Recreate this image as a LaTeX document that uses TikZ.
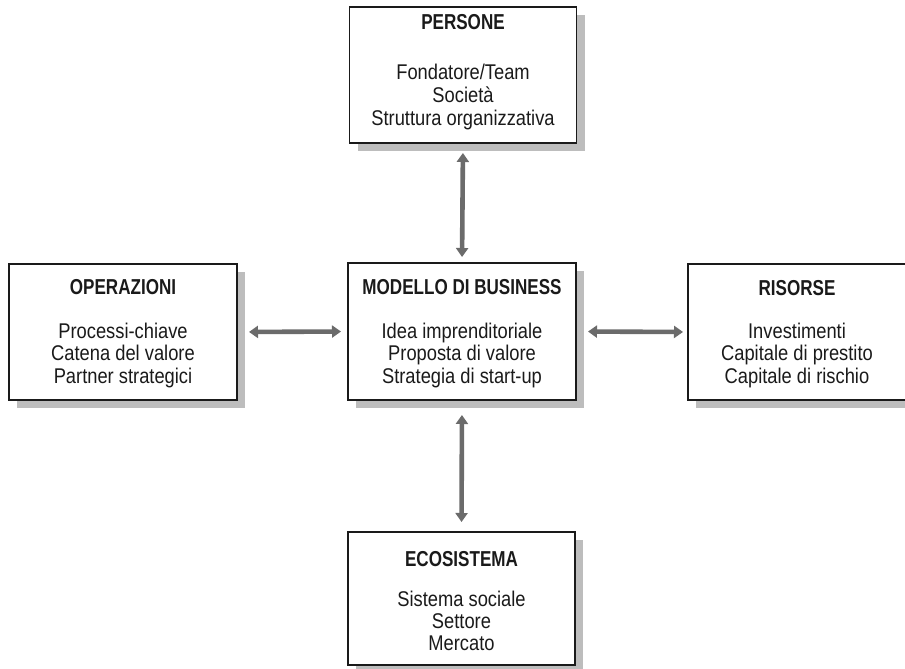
\documentclass[tikz,border=0pt]{standalone}
\usepackage{fontspec}
\setmainfont{Liberation Sans}[FakeStretch=0.86]
\newfontfamily\headfont{Liberation Sans}[FakeStretch=0.79]
\usetikzlibrary{arrows.meta,shadows}

\definecolor{inkgray}{HTML}{1A1A1A}
\definecolor{shadegray}{HTML}{BDBDBD}
\definecolor{arrowgray}{HTML}{6B6B6B}

\tikzset{
  panel/.style={draw=inkgray, line width=1.4pt, fill=white,
    general shadow={fill=shadegray, shadow xshift=8pt, shadow yshift=-8pt},
    inner sep=0pt, outer sep=0pt},
  heading/.style={anchor=base, inner sep=0pt, text=inkgray,
    font=\headfont\bfseries\fontsize{21.6}{24}\selectfont},
  entry/.style={anchor=base, inner sep=0pt, text=inkgray,
    font=\fontsize{21.3}{24}\selectfont},
  link/.style={draw=arrowgray, line width=4.6pt,
    {Triangle[width=12pt,length=9pt]}-{Triangle[width=12pt,length=9pt]}}
}

\begin{document}
\begin{tikzpicture}[x=1pt,y=-1pt]
\useasboundingbox (0,0) rectangle (905,669);
\clip (0,0) rectangle (905,669);
\fill[white] (0,0) rectangle (905,669);

% boxes
\node[panel, minimum width=227pt, minimum height=136pt] (persone) at (463,75) {};
\node[panel, minimum width=228pt, minimum height=137pt] (modello) at (462,331.5) {};
\node[panel, minimum width=228pt, minimum height=136pt] (operazioni) at (123,332) {};
\node[panel, anchor=west, minimum width=240pt, minimum height=136pt] (risorse) at (688,332) {};
\node[panel, minimum width=227pt, minimum height=133pt] (ecosistema) at (461.5,598.5) {};

% PERSONE
\node[heading] (t1) at (463,30) {PERSONE};
\node[entry] (p1) at (463,80) {Fondatore/Team};
\node[entry] (p2) at (463,102.5) {Società};
\node[entry] (p3) at (463,125) {Struttura organizzativa};

% MODELLO DI BUSINESS
\node[heading] (t2) at (462,294) {MODELLO DI BUSINESS};
\node[entry] (m1) at (462,338) {Idea imprenditoriale};
\node[entry] (m2) at (462,360.5) {Proposta di valore};
\node[entry] (m3) at (462,383) {Strategia di start-up};

% OPERAZIONI
\node[heading] (t3) at (123,294) {OPERAZIONI};
\node[entry] (o1) at (123,338) {Processi-chiave};
\node[entry] (o2) at (123,360.5) {Catena del valore};
\node[entry] (o3) at (123,383) {Partner strategici};

% RISORSE
\node[heading] (t4) at (797,295) {RISORSE};
\node[entry] (r1) at (797,338) {Investimenti};
\node[entry] (r2) at (797,360.5) {Capitale di prestito};
\node[entry] (r3) at (797,383) {Capitale di rischio};

% ECOSISTEMA
\node[heading] (t5) at (461.5,566) {ECOSISTEMA};
\node[entry] (e1) at (461.5,606) {Sistema sociale};
\node[entry] (e2) at (461.5,628) {Settore};
\node[entry] (e3) at (461.5,650) {Mercato};

% connectors
\draw[link, shorten <=10pt, shorten >=6pt] (persone.south) -- (modello.north);
\draw[link, shorten <=12pt, shorten >=7pt] (operazioni.east) -- (modello.west);
\draw[link, shorten <=12pt, shorten >=5pt] (modello.east) -- (risorse.west);
\draw[link, shorten <=15pt, shorten >=10pt] (modello.south) -- (ecosistema.north);
\end{tikzpicture}
\end{document}
